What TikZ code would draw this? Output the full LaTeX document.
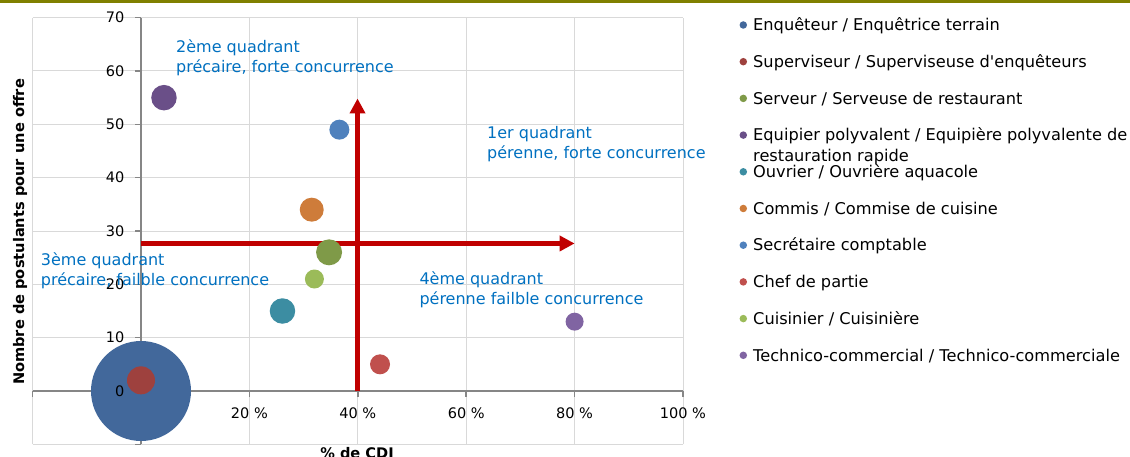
\documentclass[tikz,border=0pt]{standalone}
\usepackage{fontspec}
\setmainfont{DejaVu Sans}[Ligatures=TeXOff]
\usetikzlibrary{arrows.meta}
\definecolor{bandolive}{RGB}{128,128,0}
\definecolor{gridgray}{RGB}{217,217,217}
\definecolor{axisgray}{RGB}{134,134,134}
\definecolor{arrowred}{RGB}{192,0,0}
\definecolor{quadblue}{RGB}{0,112,192}
\definecolor{cEnq}{RGB}{66,104,155}
\definecolor{cSup}{RGB}{158,65,62}
\definecolor{cSer}{RGB}{127,154,72}
\definecolor{cEqu}{RGB}{106,79,136}
\definecolor{cOuv}{RGB}{60,141,162}
\definecolor{cCom}{RGB}{206,124,58}
\definecolor{cSec}{RGB}{79,129,189}
\definecolor{cChe}{RGB}{192,80,77}
\definecolor{cCui}{RGB}{155,187,89}
\definecolor{cTec}{RGB}{128,100,162}
\begin{document}
\begin{tikzpicture}[x=1pt,y=-1pt,
  bubble/.style={circle, inner sep=0pt, draw=none},
  legdot/.style={circle, inner sep=0pt, minimum size=7.5pt, draw=none},
  legtext/.style={anchor=base west, inner sep=0pt, font=\fontsize{16.2}{20}\selectfont, text=black},
  quadtext/.style={anchor=base west, inner sep=0pt, align=left, font=\fontsize{16}{20}\selectfont, text=quadblue},
  ylab/.style={anchor=east, inner sep=0pt, font=\fontsize{14.5}{17}\selectfont, text=black},
  xlab/.style={anchor=center, inner sep=0pt, font=\fontsize{14.5}{17}\selectfont, text=black},
  axtitle/.style={inner sep=0pt, font=\bfseries\fontsize{14.6}{17}\selectfont, text=black},
  gridline/.style={draw=gridgray, line width=1pt},
  axisline/.style={draw=axisgray, line width=1.6pt},
  bigarrow/.style={draw=arrowred, line width=4.6pt, -{Triangle[width=15pt,length=15pt]}}
]
\useasboundingbox (0,0) rectangle (1130,457);
\fill[bandolive] (0,0) rectangle (1130,3.3);

\begin{scope}[shift={(141,391)}, x=5.42pt, y=5.3333pt]
  % grid
  \foreach \gx in {-20,20,40,60,80,100}
    \draw[gridline] (\gx,-10) -- (\gx,70);
  \foreach \gy in {-10,0,...,70}
    \draw[gridline] (-20,\gy) -- (100,\gy);
  % axes
  \draw[axisline] (0,-10) -- (0,70);
  \foreach \gy in {-10,0,...,70}
    \draw[axisline] (0,\gy) -- ++(-6pt,0pt);
  \draw[axisline] (-20,0) -- (100,0);
  \foreach \gx in {-20,0,...,100}
    \draw[axisline] (\gx,0) -- ++(0pt,-6pt);
  % quadrant arrows
  \coordinate (hstart) at (0,27.66);
  \coordinate (hend) at (80,27.66);
  \coordinate (vstart) at (39.95,0);
  \coordinate (vend) at (39.95,54.85);
  \draw[bigarrow] (hstart) -- (hend);
  \draw[bigarrow] (vstart) -- (vend);
  % bubbles
  \node[bubble, fill=cEnq, minimum size=100pt] (enq) at (0,0) {};
  \node[bubble, fill=cSup, minimum size=28pt] (sup) at (0,2) {};
  \node[bubble, fill=cEqu, minimum size=25.5pt] (equ) at (4.24,55) {};
  \node[bubble, fill=cSec, minimum size=20pt] (sec) at (36.6,49) {};
  \node[bubble, fill=cCom, minimum size=24pt] (com) at (31.5,34) {};
  \node[bubble, fill=cSer, minimum size=26pt] (ser) at (34.7,26) {};
  \node[bubble, fill=cCui, minimum size=19pt] (cui) at (32,21) {};
  \node[bubble, fill=cOuv, minimum size=25.5pt] (ouv) at (26.1,15) {};
  \node[bubble, fill=cChe, minimum size=20pt] (che) at (44.1,5) {};
  \node[bubble, fill=cTec, minimum size=18pt] (tec) at (80,13) {};
  % axis labels
  \foreach \gy in {0,10,...,70}
    \node[ylab] (yl\gy) at ([xshift=-16.5pt]0,\gy) {\gy};
  \foreach \gx in {20,40,60,80,100}
    \node[xlab] (xl\gx) at ([yshift=-22pt]\gx,0) {\gx\ \%};
\end{scope}

% axis titles
\node[axtitle, rotate=90] (ytitle) at (20,232) {Nombre de postulants pour une offre};
\node[axtitle, anchor=north] (xtitle) at (357,447.5) {\% de CDI};

% quadrant texts (base anchor = baseline of last line)
\node[quadtext] (q2) at (176,72.3) {2ème quadrant\\précaire, forte concurrence};
\node[quadtext] (q1) at (487,159) {1er quadrant\\pérenne, forte concurrence};
\node[quadtext] (q3) at (40.7,285.7) {3ème quadrant\\précaire, failble concurrence};
\node[quadtext] (q4) at (419.3,304) {4ème quadrant\\pérenne failble concurrence};

% legend
\foreach \i/\col/\txt in {
  0/cEnq/{Enquêteur / Enquêtrice terrain},
  1/cSup/{Superviseur / Superviseuse d'enquêteurs},
  2/cSer/{Serveur / Serveuse de restaurant},
  3/cEqu/{Equipier polyvalent / Equipière polyvalente de},
  4/cOuv/{Ouvrier / Ouvrière aquacole},
  5/cCom/{Commis / Commise de cuisine},
  6/cSec/{Secrétaire comptable},
  7/cChe/{Chef de partie},
  8/cCui/{Cuisinier / Cuisinière},
  9/cTec/{Technico-commercial / Technico-commerciale}}{
  \pgfmathsetmacro{\by}{30.7+36.7*\i}
  \node[legdot, fill=\col] (ld\i) at (743.3,\by-5.7) {};
  \node[legtext] (lt\i) at (753,\by) {\txt};
}
\node[legtext] (lt3b) at (753,161.8) {restauration rapide};
\end{tikzpicture}
\end{document}
